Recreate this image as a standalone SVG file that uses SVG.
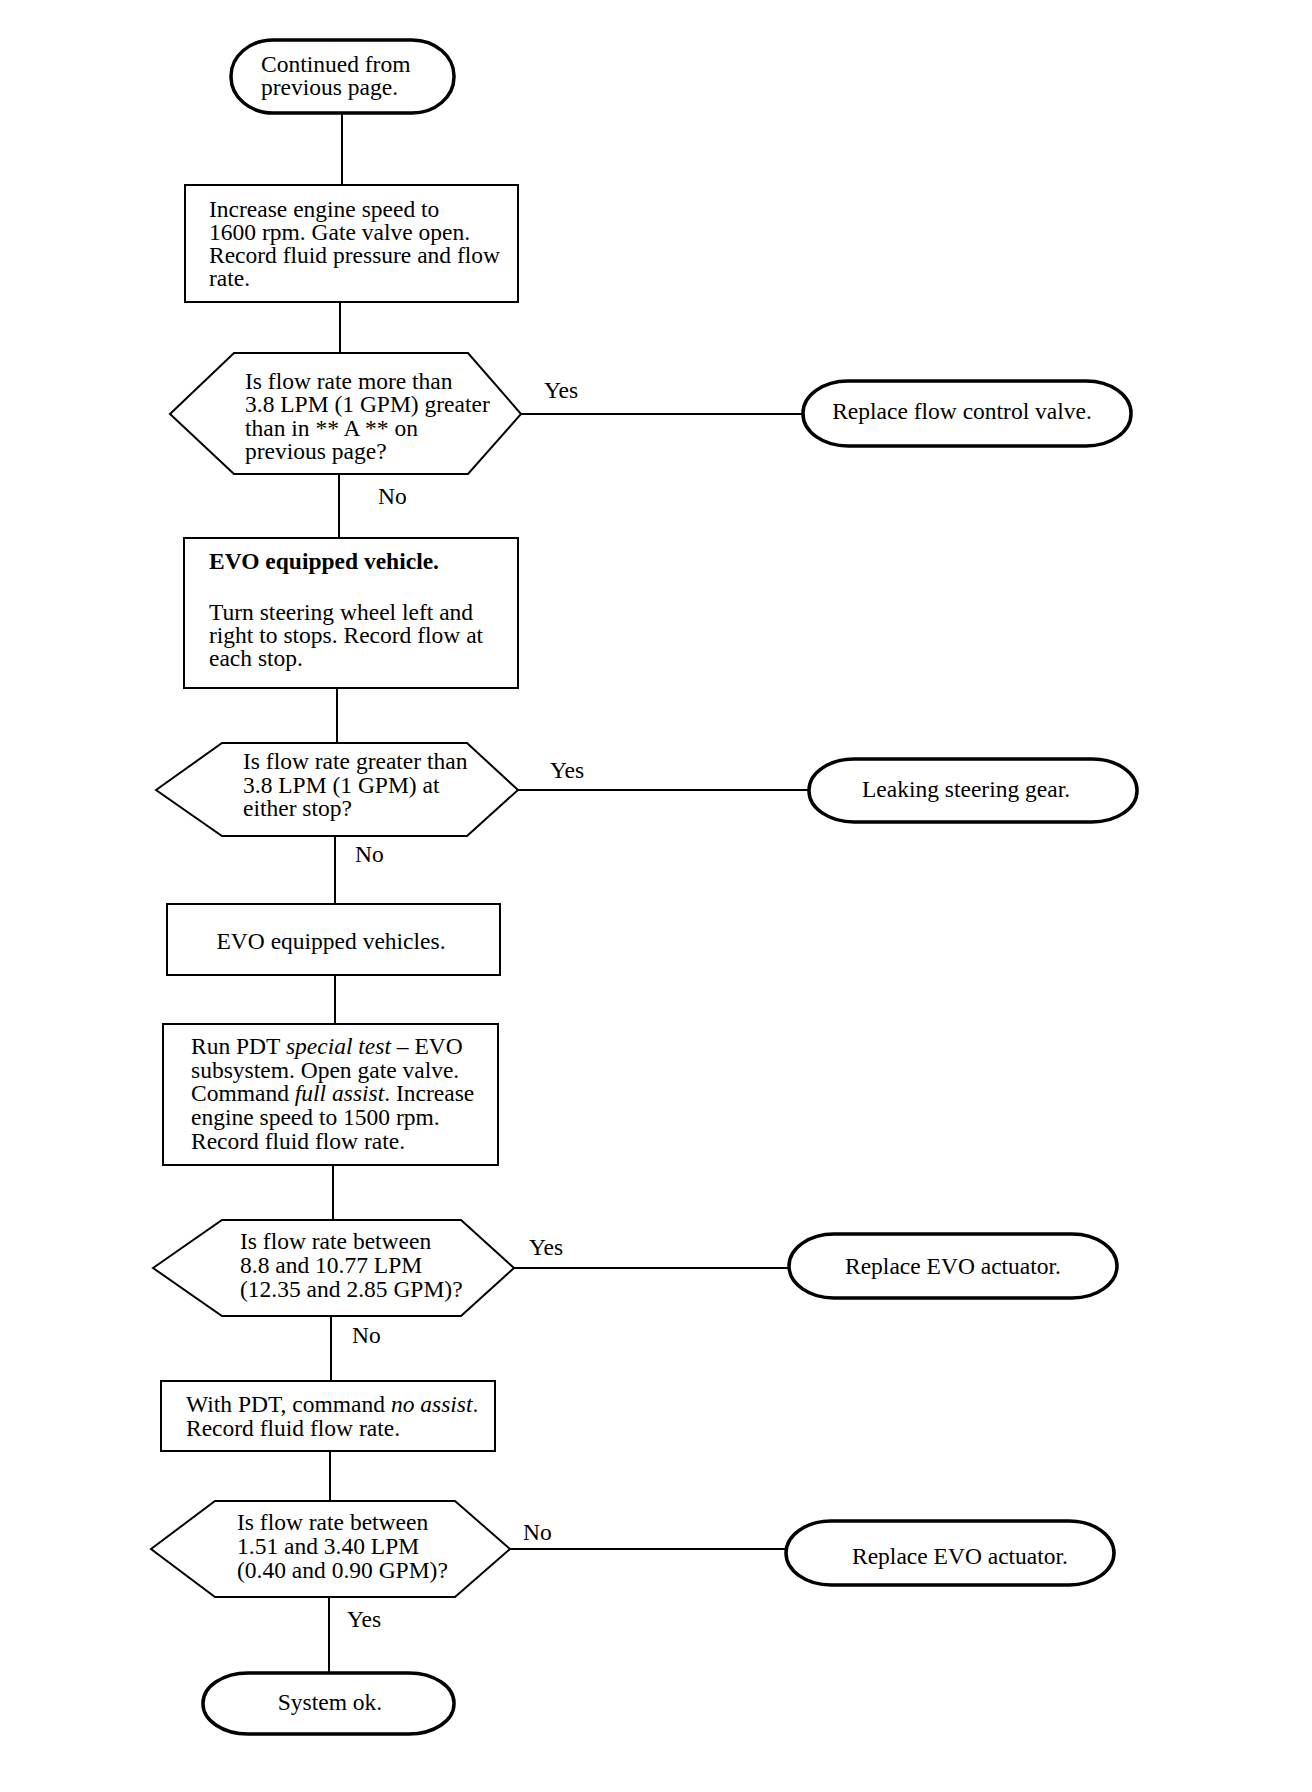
<svg xmlns="http://www.w3.org/2000/svg" width="1312" height="1792" viewBox="0 0 1312 1792">
<style>
.bg{fill:#fff}
.box{fill:#fff;stroke:#000;stroke-width:2}
.term{fill:#fff;stroke:#000;stroke-width:3.5}
.dec{fill:#fff;stroke:#000;stroke-width:2;stroke-linejoin:miter}
.con{fill:none;stroke:#000;stroke-width:2}
text{font-family:"Liberation Serif","Times New Roman",serif;font-size:23.5px;fill:#000}
.c{text-anchor:middle}
.b{font-weight:bold}
.i{font-style:italic}
</style>
<rect class="bg" x="0" y="0" width="1312" height="1792"/>
<g id="connectors">
<line class="con" x1="342" y1="113" x2="342" y2="185"/>
<line class="con" x1="340" y1="302" x2="340" y2="353"/>
<line class="con" x1="521" y1="414" x2="803" y2="414"/>
<line class="con" x1="339" y1="474" x2="339" y2="538"/>
<line class="con" x1="337" y1="688" x2="337" y2="743"/>
<line class="con" x1="518" y1="790" x2="809" y2="790"/>
<line class="con" x1="335" y1="836" x2="335" y2="904"/>
<line class="con" x1="335" y1="975" x2="335" y2="1024"/>
<line class="con" x1="333" y1="1165" x2="333" y2="1220"/>
<line class="con" x1="514" y1="1268" x2="789" y2="1268"/>
<line class="con" x1="331" y1="1316" x2="331" y2="1381"/>
<line class="con" x1="330" y1="1451" x2="330" y2="1501"/>
<line class="con" x1="510" y1="1549" x2="786" y2="1549"/>
<line class="con" x1="329" y1="1597" x2="329" y2="1673"/>
<text x="544" y="398">Yes</text>
<text x="378" y="504">No</text>
<text x="550" y="778">Yes</text>
<text x="355" y="862">No</text>
<text x="529" y="1255">Yes</text>
<text x="352" y="1343">No</text>
<text x="523" y="1540">No</text>
<text x="347" y="1627">Yes</text>
</g>
<g id="start">
<rect class="term" x="231" y="40" width="223" height="73" rx="42" ry="36"/>
<text x="261" y="72">Continued from</text>
<text x="261" y="95">previous page.</text>
</g>
<g id="step1">
<rect class="box" x="185" y="185" width="333" height="117"/>
<text x="209" y="217">Increase engine speed to</text>
<text x="209" y="240">1600 rpm. Gate valve open.</text>
<text x="209" y="263">Record fluid pressure and flow</text>
<text x="209" y="286">rate.</text>
</g>
<g id="dec1">
<polygon class="dec" points="170,414 234,353 468,353 521,414 468,474 234,474"/>
<text x="245" y="389">Is flow rate more than</text>
<text x="245" y="412">3.8 LPM (1 GPM) greater</text>
<text x="245" y="436">than in ** A ** on</text>
<text x="245" y="459">previous page?</text>
</g>
<g id="end1">
<rect class="term" x="803" y="381" width="328" height="65" rx="45" ry="32"/>
<text class="c" x="962" y="419">Replace flow control valve.</text>
</g>
<g id="step2">
<rect class="box" x="184" y="538" width="334" height="150"/>
<text class="b" x="209" y="569">EVO equipped vehicle.</text>
<text x="209" y="620">Turn steering wheel left and</text>
<text x="209" y="643">right to stops. Record flow at</text>
<text x="209" y="666">each stop.</text>
</g>
<g id="dec2">
<polygon class="dec" points="156,790 222,743 467,743 518,790 467,836 222,836"/>
<text x="243" y="769">Is flow rate greater than</text>
<text x="243" y="793">3.8 LPM (1 GPM) at</text>
<text x="243" y="816">either stop?</text>
</g>
<g id="end2">
<rect class="term" x="809" y="759" width="328" height="63" rx="45" ry="31"/>
<text class="c" x="966" y="797">Leaking steering gear.</text>
</g>
<g id="step3">
<rect class="box" x="167" y="904" width="333" height="71"/>
<text class="c" x="331" y="949">EVO equipped vehicles.</text>
</g>
<g id="step4">
<rect class="box" x="163" y="1024" width="335" height="141"/>
<text x="191" y="1054">Run PDT <tspan class="i">special test</tspan> – EVO</text>
<text x="191" y="1078">subsystem. Open gate valve.</text>
<text x="191" y="1101">Command <tspan class="i">full assist</tspan>. Increase</text>
<text x="191" y="1125">engine speed to 1500 rpm.</text>
<text x="191" y="1149">Record fluid flow rate.</text>
</g>
<g id="dec3">
<polygon class="dec" points="153,1268 222,1220 461,1220 514,1268 461,1316 222,1316"/>
<text x="240" y="1249">Is flow rate between</text>
<text x="240" y="1273">8.8 and 10.77 LPM</text>
<text x="240" y="1297">(12.35 and 2.85 GPM)?</text>
</g>
<g id="end3">
<rect class="term" x="789" y="1234" width="328" height="64" rx="45" ry="32"/>
<text class="c" x="953" y="1274">Replace EVO actuator.</text>
</g>
<g id="step5">
<rect class="box" x="161" y="1381" width="334" height="70"/>
<text x="186" y="1412">With PDT, command <tspan class="i">no assist</tspan>.</text>
<text x="186" y="1436">Record fluid flow rate.</text>
</g>
<g id="dec4">
<polygon class="dec" points="151,1549 215,1501 455,1501 510,1549 455,1597 215,1597"/>
<text x="237" y="1530">Is flow rate between</text>
<text x="237" y="1554">1.51 and 3.40 LPM</text>
<text x="237" y="1578">(0.40 and 0.90 GPM)?</text>
</g>
<g id="end4">
<rect class="term" x="786" y="1521" width="328" height="64" rx="45" ry="32"/>
<text class="c" x="960" y="1564">Replace EVO actuator.</text>
</g>
<g id="end5">
<rect class="term" x="203" y="1673" width="251" height="61" rx="45" ry="30"/>
<text class="c" x="330" y="1710">System ok.</text>
</g>
</svg>
